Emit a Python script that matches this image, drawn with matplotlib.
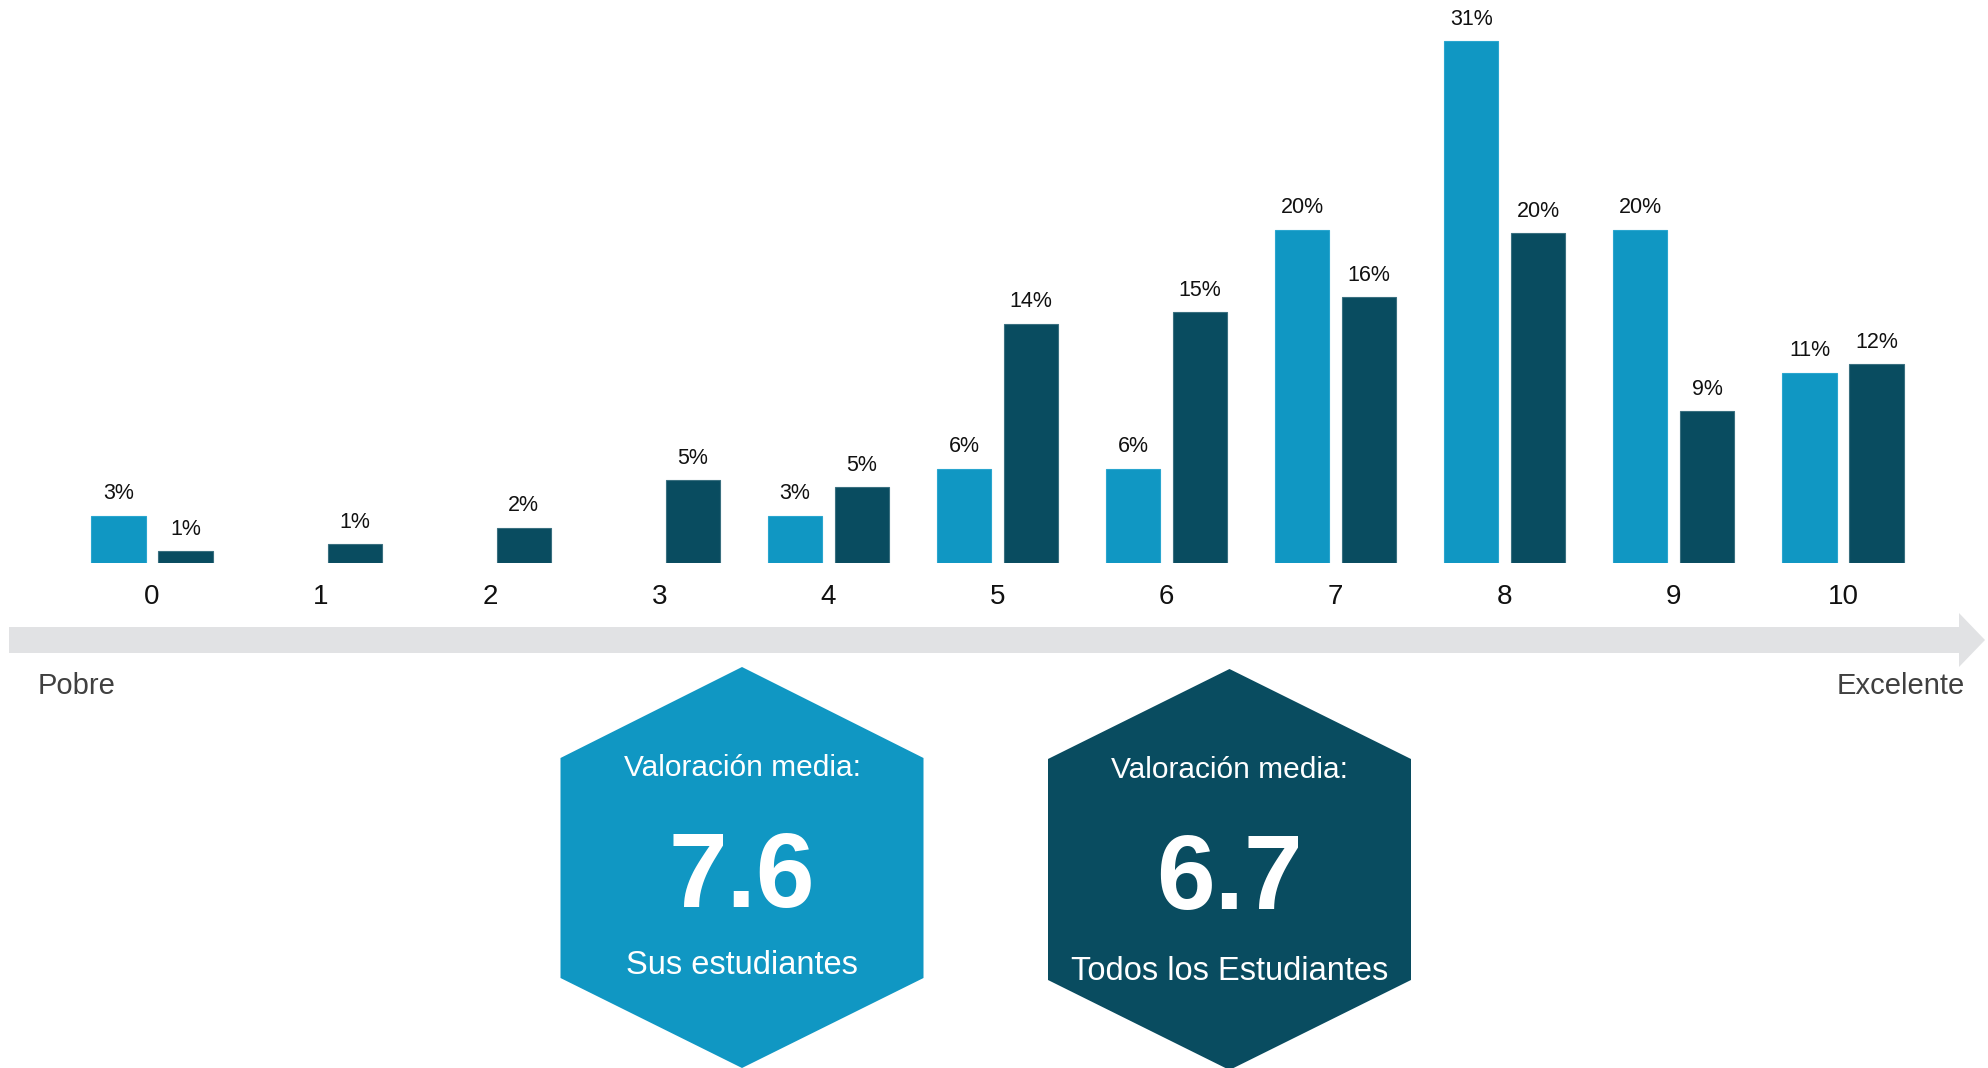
import matplotlib
matplotlib.use("Agg")
import matplotlib.pyplot as plt
from matplotlib.patches import Polygon

plt.rcParams['font.family'] = ['Liberation Sans', 'DejaVu Sans']

# data
ratings = [0, 1, 2, 3, 4, 5, 6, 7, 8, 9, 10]
sus_pct = [2.8, 0, 0, 0, 2.8, 5.6, 5.6, 19.8, 31.0, 19.8, 11.3]
todos_pct = [0.7, 1.1, 2.1, 4.9, 4.5, 14.2, 14.9, 15.8, 19.6, 9.0, 11.8]
sus_labels = ['3%', '', '', '', '3%', '6%', '6%', '20%', '31%', '20%', '11%']
todos_labels = ['1%', '1%', '2%', '5%', '5%', '14%', '15%', '16%', '20%', '9%', '12%']
groups = ['Sus estudiantes', 'Todos los Estudiantes']
means = [7.6, 6.7]

LIGHT = '#1097c3'
DARK = '#094c60'

W, H = 1988, 1068
fig = plt.figure(figsize=(W / 100, H / 100), dpi=100)

# bar chart area: baseline at 563 px, category 0 at x=152 px, step 169 px
base_px = 563
step = 169.1
x0 = 152
pct_px = 16.84
ax = fig.add_axes([0, (H - base_px) / H, 1, base_px / H])
ax.set_xlim(-x0 / step, (W - x0) / step)
ax.set_ylim(0, base_px / pct_px)

bw = 0.32
off = 0.198
xs = list(ratings)
b1 = ax.bar([x - off for x in xs], sus_pct, width=bw, color=LIGHT,
            edgecolor='#2aa6cf', linewidth=[0.8 if v > 0 else 0 for v in sus_pct])
b2 = ax.bar([x + off for x in xs], todos_pct, width=bw, color=DARK,
            edgecolor='#3a7080', linewidth=[0.8 if v > 0 else 0 for v in todos_pct])
for bars, labels in ((b1, sus_labels), (b2, todos_labels)):
    for rect, lab in zip(bars, labels):
        if lab:
            ax.text(rect.get_x() + rect.get_width() / 2, rect.get_height() + 1.3,
                    lab, ha='center', va='center', fontsize=15.5, color='#111111')

ax.set_xticks(xs)
ax.set_xticklabels([str(r) for r in ratings], fontsize=20, color='#111111')
ax.tick_params(axis='x', length=0, pad=15)
ax.set_yticks([])
for s in ax.spines.values():
    s.set_visible(False)
ax.patch.set_alpha(0)

# overlay in pixel coordinates for arrow and hexagons
ov = fig.add_axes([0, 0, 1, 1], zorder=-1)
ov.set_xlim(0, W)
ov.set_ylim(H, 0)
ov.axis('off')

arrow = [(9, 627), (1959, 627), (1959, 613), (1985, 640),
         (1959, 667), (1959, 653), (9, 653)]
ov.add_patch(Polygon(arrow, closed=True, color='#e1e2e4', lw=0))
ov.text(38, 686, 'Pobre', ha='left', va='center', fontsize=21, color='#404040')
ov.text(1965, 686, 'Excelente', ha='right', va='center', fontsize=21, color='#404040')

ov2 = fig.add_axes([0, 0, 1, 1])
ov2.set_xlim(0, W)
ov2.set_ylim(H, 0)
ov2.axis('off')

hexes = [
    dict(cx=742, half=181.5, top=667, s1=758, s2=978, bot=1068, color=LIGHT, dy=0),
    dict(cx=1229.5, half=181.5, top=669, s1=759, s2=980, bot=1070, color=DARK, dy=4),
]
for hx, name, m in zip(hexes, groups, means):
    cx, hw = hx['cx'], hx['half']
    pts = [(cx, hx['top']), (cx + hw, hx['s1']), (cx + hw, hx['s2']),
           (cx, hx['bot']), (cx - hw, hx['s2']), (cx - hw, hx['s1'])]
    ov2.add_patch(Polygon(pts, closed=True, color=hx['color'], lw=0))
    ov2.text(cx, 768 + hx['dy'] / 2, 'Valoración media:', ha='center', va='center',
             fontsize=21.5, color='white')
    ov2.text(cx, 880 + hx['dy'] / 2, f'{m:.1f}', ha='center', va='center',
             fontsize=76, fontweight='bold', color='white')
    ov2.text(cx, 966 + hx['dy'] * 1.5, name, ha='center', va='center',
             fontsize=23.5, color='white')

fig.savefig('out.png', dpi=100)
